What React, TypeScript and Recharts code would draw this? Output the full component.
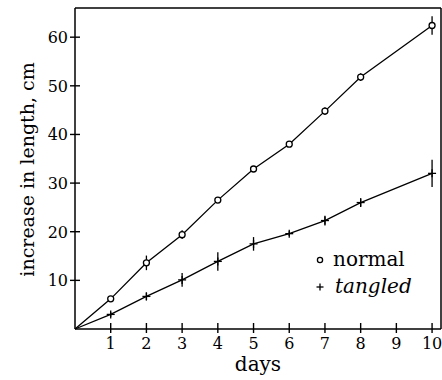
import React from 'react';
import { LineChart, Line, XAxis, YAxis, ErrorBar, ReferenceLine, Legend } from 'recharts';

const days = [0, 1, 2, 3, 4, 5, 6, 7, 8, 10];
const normal = [0, 6.2, 13.6, 19.4, 26.5, 32.9, 38.0, 44.8, 51.8, 62.4];
const normalErr = [0, 0.6, 1.5, 0.9, 0.6, 0.6, 0.6, 0.8, 0.8, 1.9];
const tangled = [0, 3.0, 6.7, 10.1, 13.9, 17.5, 19.6, 22.3, 26.0, 32.0];
const tangledErr = [0, 0.5, 0.8, 1.4, 1.9, 1.4, 0.5, 1.0, 0.9, 2.8];
const xTicks = [1, 2, 3, 4, 5, 6, 7, 8, 9, 10];
const yTicks = [10, 20, 30, 40, 50, 60];
const xMax = 10.25;
const yMax = 66;

const data = days.map((d, i) => ({
  day: d,
  normal: normal[i],
  nErr: normalErr[i],
  tangled: tangled[i],
  tErr: tangledErr[i],
}));

const FONT = "'DejaVu Serif', serif";

const XTick = (props: any) => {
  const { x, y, payload } = props;
  return (
    <g>
      <line x1={x} x2={x} y1={y - 6} y2={y + 4} stroke="#000" strokeWidth={1.4} />
      <text x={x} y={y + 20} textAnchor="middle" fontFamily={FONT} fontSize={16} fill="#000">
        {payload.value}
      </text>
    </g>
  );
};

const YTick = (props: any) => {
  const { x, y, payload } = props;
  return (
    <g>
      <line x1={x - 5} x2={x + 5} y1={y} y2={y} stroke="#000" strokeWidth={1.4} />
      <text x={x - 7} y={y + 6} textAnchor="end" fontFamily={FONT} fontSize={16} fill="#000">
        {payload.value}
      </text>
    </g>
  );
};

const CircleDot = (props: any) => {
  const { cx, cy, payload, index } = props;
  if (payload.day === 0) return <g key={`n-${index}`} />;
  return <circle key={`n-${index}`} cx={cx} cy={cy} r={3} fill="#fff" stroke="#000" strokeWidth={1.3} />;
};

const PlusDot = (props: any) => {
  const { cx, cy, payload, index } = props;
  if (payload.day === 0) return <g key={`t-${index}`} />;
  return (
    <g key={`t-${index}`}>
      <line x1={cx - 4} x2={cx + 4} y1={cy} y2={cy} stroke="#000" strokeWidth={1.3} />
      <line x1={cx} x2={cx} y1={cy - 4} y2={cy + 4} stroke="#000" strokeWidth={1.3} />
    </g>
  );
};

const LegendContent = () => (
  <div style={{ fontFamily: FONT, fontSize: 20, color: '#000' }}>
    <div style={{ display: 'flex', alignItems: 'center', height: 27 }}>
      <svg width={16} height={16} style={{ flex: 'none' }}>
        <circle cx={8} cy={8} r={2.6} fill="#fff" stroke="#000" strokeWidth={1.3} />
      </svg>
      <span style={{ marginLeft: 5, lineHeight: '27px' }}>normal</span>
    </div>
    <div style={{ display: 'flex', alignItems: 'center', height: 27 }}>
      <svg width={16} height={16} style={{ flex: 'none' }}>
        <line x1={4.5} x2={11.5} y1={8} y2={8} stroke="#000" strokeWidth={1.3} />
        <line x1={8} x2={8} y1={4.5} y2={11.5} stroke="#000" strokeWidth={1.3} />
      </svg>
      <span style={{ marginLeft: 7, fontStyle: 'italic', lineHeight: '27px' }}>tangled</span>
    </div>
  </div>
);

export default function App() {
  return (
    <div style={{ position: 'absolute', left: 0, top: 0, width: 442, height: 380, background: '#fff' }}>
      <LineChart width={442} height={380} data={data} margin={{ top: 8, right: 1, left: 0, bottom: 0 }}>
        <XAxis
          dataKey="day"
          type="number"
          domain={[0, xMax]}
          ticks={xTicks}
          interval={0}
          height={51}
          tickSize={0}
          tickMargin={0}
          tickLine={false}
          tick={<XTick />}
          axisLine={{ stroke: '#000', strokeWidth: 1.5 }}
          label={{
            content: (p: any) => {
              const vb = p.viewBox;
              return (
                <text x={vb.x + vb.width / 2} y={vb.y + 42} textAnchor="middle" fontFamily={FONT} fontSize={20} fill="#000">
                  days
                </text>
              );
            },
          }}
        />
        <YAxis
          type="number"
          domain={[0, yMax]}
          ticks={yTicks}
          interval={0}
          width={75}
          tickSize={0}
          tickMargin={0}
          tickLine={false}
          tick={<YTick />}
          axisLine={{ stroke: '#000', strokeWidth: 1.5 }}
          label={{
            content: (p: any) => {
              const vb = p.viewBox;
              const cx = 27;
              const cy = vb.y + vb.height / 2 + 1;
              return (
                <text
                  x={cx}
                  y={cy}
                  transform={`rotate(-90 ${cx} ${cy})`}
                  textAnchor="middle"
                  dominantBaseline="central"
                  fontFamily={FONT}
                  fontSize={19}
                  fill="#000"
                >
                  increase in length, cm
                </text>
              );
            },
          }}
        />
        <ReferenceLine y={yMax} stroke="#000" strokeWidth={1.5} />
        <ReferenceLine x={xMax} stroke="#000" strokeWidth={1.5} />
        <Line
          dataKey="normal"
          stroke="#000"
          strokeWidth={1.3}
          isAnimationActive={false}
          dot={(p: any) => <CircleDot {...p} />}
          activeDot={false}
        >
          <ErrorBar dataKey="nErr" direction="y" width={0} stroke="#000" strokeWidth={1.3} isAnimationActive={false} />
        </Line>
        <Line
          dataKey="tangled"
          stroke="#000"
          strokeWidth={1.3}
          isAnimationActive={false}
          dot={(p: any) => <PlusDot {...p} />}
          activeDot={false}
        >
          <ErrorBar dataKey="tErr" direction="y" width={0} stroke="#000" strokeWidth={1.3} isAnimationActive={false} />
        </Line>
        <Legend
          layout="vertical"
          align="center"
          verticalAlign="middle"
          content={<LegendContent />}
          wrapperStyle={{ position: 'absolute', left: 312, top: 246, width: 120, height: 56 }}
        />
      </LineChart>
    </div>
  );
}
